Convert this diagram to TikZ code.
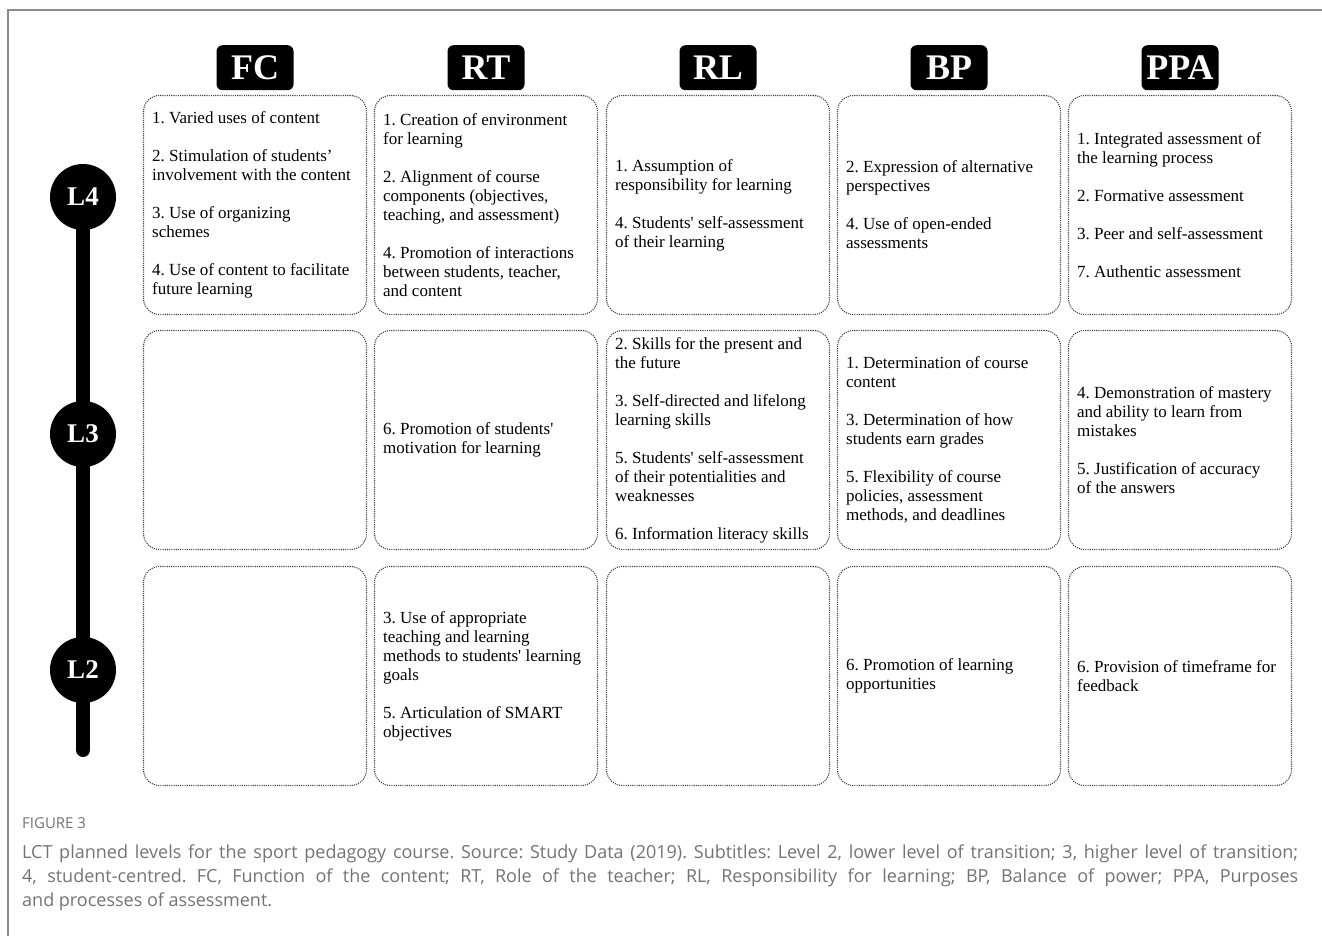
\documentclass[tikz,border=0pt]{standalone}
\usepackage{fontspec}
\setmainfont{Liberation Serif}
\newfontfamily\capfont{Open Sans}
\usetikzlibrary{positioning}
\frenchspacing

\begin{document}
\begin{tikzpicture}[x=1pt, y=-1pt,
    cell/.style={draw=black!75, line width=1.1pt, dash pattern=on 1.1pt off 1.1pt,
      rounded corners=16pt, minimum width=223pt, minimum height=219pt, inner sep=0pt},
    items/.style={align=left, inner sep=0pt, font=\fontsize{17}{19}\selectfont},
    head/.style={fill=black, rounded corners=6pt, minimum width=77pt, minimum height=45pt,
      inner sep=0pt, text=white, font=\fontsize{36}{36}\selectfont\bfseries},
    level/.style={circle, fill=black, minimum size=66pt, inner sep=0pt, text=white,
      font=\fontsize{27}{27}\selectfont\bfseries},
    stem/.style={line width=14pt}]
        \useasboundingbox (0,0) rectangle (1322,936);
        \draw[black!45, line width=1.5pt] (8,936) -- (8,10) -- (1322,10);

        % levels
        \node[level] (l4) at (83,197) {L4};
        \node[level] (l3) at (83,434) {L3};
        \node[level] (l2) at (83,670) {L2};
        \coordinate (lend) at (83,750);
        \draw[stem, shorten <=-3pt, shorten >=-3pt] (l4) -- (l3);
        \draw[stem, shorten <=-3pt, shorten >=-3pt] (l3) -- (l2);
        \draw[stem, shorten <=-3pt, line cap=round] (l2) -- (lend);

        % cells
        \node[cell] (fc4) at (255,205) {};
        \node[cell] (rt4) at (486,205) {};
        \node[cell] (rl4) at (718,205) {};
        \node[cell] (bp4) at (949,205) {};
        \node[cell] (ppa4) at (1180,205) {};
        \node[cell] (fc3) at (255,440) {};
        \node[cell] (rt3) at (486,440) {};
        \node[cell] (rl3) at (718,440) {};
        \node[cell] (bp3) at (949,440) {};
        \node[cell] (ppa3) at (1180,440) {};
        \node[cell] (fc2) at (255,676) {};
        \node[cell] (rt2) at (486,676) {};
        \node[cell] (rl2) at (718,676) {};
        \node[cell] (bp2) at (949,676) {};
        \node[cell] (ppa2) at (1180,676) {};

        % headers
        \node[head, above=4.5pt of fc4] (hfc) {FC};
        \node[head, above=4.5pt of rt4] (hrt) {RT};
        \node[head, above=4.5pt of rl4] (hrl) {RL};
        \node[head, above=4.5pt of bp4] (hbp) {BP};
        \node[head, above=4.5pt of ppa4] (hppa) {PPA};

        % L4 items
        \node[items, right=9pt of fc4.west] (tfc4) {1. Varied uses of content\\[19pt]
            2. Stimulation of students’\\ involvement with the content\\[19pt]
            3. Use of organizing\\ schemes\\[19pt]
            4. Use of content to facilitate\\ future learning};
        \node[items, right=9pt of rt4.west] (trt4) {1. Creation of environment\\ for learning\\[19pt]
            2. Alignment of course\\ components (objectives,\\ teaching, and assessment)\\[19pt]
            4. Promotion of interactions\\ between students, teacher,\\ and content};
        \node[items, right=9pt of rl4.west] (trl4) {1. Assumption of\\ responsibility for learning\\[19pt]
            4. Students\textquotesingle{} self-assessment\\ of their learning};
        \node[items, right=9pt of bp4.west] (tbp4) {2. Expression of alternative\\ perspectives\\[19pt]
            4. Use of open-ended\\ assessments};
        \node[items, right=9pt of ppa4.west] (tppa4) {1. Integrated assessment of\\ the learning process\\[19pt]
            2. Formative assessment\\[19pt]
            3. Peer and self-assessment\\[19pt]
            7. Authentic assessment};

        % L3 items
        \node[items, right=9pt of rt3.west] (trt3) {6. Promotion of students\textquotesingle\\ motivation for learning};
        \node[items, right=9pt of rl3.west] (trl3) {2. Skills for the present and\\ the future\\[19pt]
            3. Self-directed and lifelong\\ learning skills\\[19pt]
            5. Students\textquotesingle{} self-assessment\\ of their potentialities and\\ weaknesses\\[19pt]
            6. Information literacy skills};
        \node[items, right=9pt of bp3.west] (tbp3) {1. Determination of course\\ content\\[19pt]
            3. Determination of how\\ students earn grades\\[19pt]
            5. Flexibility of course\\ policies, assessment\\ methods, and deadlines};
        \node[items, right=9pt of ppa3.west] (tppa3) {4. Demonstration of mastery\\ and ability to learn from\\ mistakes\\[19pt]
            5. Justification of accuracy\\ of the answers};

        % L2 items
        \node[items, right=9pt of rt2.west] (trt2) {3. Use of appropriate\\ teaching and learning\\ methods to students\textquotesingle{} learning\\ goals\\[19pt]
            5. Articulation of SMART\\ objectives};
        \node[items, right=9pt of bp2.west] (tbp2) {6. Promotion of learning\\ opportunities};
        \node[items, right=9pt of ppa2.west] (tppa2) {6. Provision of timeframe for\\ feedback};

        % caption
        \node[anchor=west, inner sep=0pt, text=black!55, font=\capfont\fontsize{15}{18}\selectfont] (fig) at (22,823) {FIGURE 3};
        \node[anchor=north west, inner sep=0pt, text width=1276pt, align=justify, text=black!55,
            font=\capfont\fontsize{18}{24}\selectfont] (cap) at (22,845) {LCT planned levels for the sport pedagogy course. Source: Study Data (2019). Subtitles: Level 2, lower level of transition; 3, higher level of transition;\linebreak
            4, student-centred. FC, Function of the content; RT, Role of the teacher; RL, Responsibility for learning; BP, Balance of power; PPA, Purposes\linebreak
            and processes of assessment.};
\end{tikzpicture}
\end{document}
